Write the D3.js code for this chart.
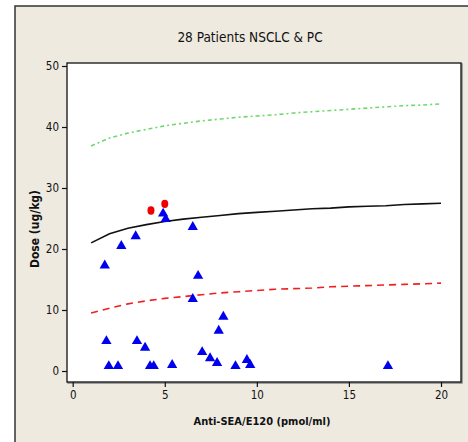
<!DOCTYPE html>
<html><head><meta charset="utf-8">
<script src="https://cdn.jsdelivr.net/npm/d3@7"></script>
<style>body{margin:0;background:#fff;} text{font-family:"Liberation Sans Narrow","DejaVu Sans Condensed",sans-serif;fill:#111;}</style>
</head><body>
<svg id="c" width="468" height="442"></svg>
<script>
const title = "28 Patients NSCLC & PC";
const xLabel = "Anti-SEA/E120 (pmol/ml)";
const yLabel = "Dose (ug/kg)";
const xTicks = [0, 5, 10, 15, 20];
const yTicks = [0, 10, 20, 30, 40, 50];

const curveX     = [1, 2, 3, 4, 5, 6, 7, 8, 9, 10, 11, 12, 13, 14, 15, 16, 17, 18, 19, 20];
const fitLine    = [21.0, 22.5, 23.4, 24.0, 24.5, 24.9, 25.2, 25.5, 25.8, 26.0, 26.2, 26.4, 26.6, 26.7, 26.9, 27.0, 27.1, 27.3, 27.4, 27.5];
const upperLine  = [36.9, 38.2, 39.0, 39.6, 40.2, 40.6, 41.0, 41.3, 41.6, 41.8, 42.0, 42.3, 42.5, 42.7, 42.9, 43.1, 43.3, 43.5, 43.6, 43.8];
const lowerLine  = [9.5, 10.3, 11.0, 11.5, 11.9, 12.2, 12.5, 12.8, 13.0, 13.2, 13.4, 13.5, 13.6, 13.8, 13.9, 14.0, 14.1, 14.2, 14.3, 14.4];

const triX = [4.91, 5.05, 6.52, 3.42, 2.64, 1.74, 6.81, 6.52, 8.18, 7.93, 1.83, 3.49, 3.93, 7.03, 7.46, 7.84, 1.96, 2.46, 4.2, 4.4, 5.40, 8.84, 9.46, 9.64, 17.12];
const triY = [25.8, 24.9, 23.6, 22.1, 20.5, 17.3, 15.6, 11.8, 8.9, 6.6, 4.9, 4.9, 3.8, 3.1, 2.1, 1.3, 0.8, 0.8, 0.8, 0.8, 1.0, 0.8, 1.8, 1.0, 0.8];
const dotX = [4.25, 5.0];
const dotY = [26.3, 27.4];

const svg = d3.select("#c");
const L = 67, R = 461, T = 63, B = 382;

// outer frame
svg.append("rect").attr("x", 15).attr("y", 6).attr("width", 470).attr("height", 460)
  .attr("fill", "#EEEAE0").attr("stroke", "#333").attr("stroke-width", 1.5);

// plot area
svg.append("rect").attr("x", L + 1).attr("y", T + 1).attr("width", R - L).attr("height", B - T)
  .attr("fill", "none").attr("stroke", "#888").attr("stroke-width", 1.5);
svg.append("rect").attr("x", L).attr("y", T).attr("width", R - L).attr("height", B - T)
  .attr("fill", "#fff").attr("stroke", "#111").attr("stroke-width", 1.3);

const x = d3.scaleLinear().domain([0, 20]).range([72.7, 441]);
const y = d3.scaleLinear().domain([0, 50]).range([371, 66]);

const xAxis = svg.append("g").attr("transform", `translate(0,${B})`)
  .call(d3.axisBottom(x).tickValues(xTicks).tickSize(5).tickPadding(4));
const yAxis = svg.append("g").attr("transform", `translate(${L},0)`)
  .call(d3.axisLeft(y).tickValues(yTicks).tickSize(5).tickPadding(3));
[xAxis, yAxis].forEach(a => {
  a.select(".domain").remove();
  a.selectAll("line").attr("stroke", "#111").attr("stroke-width", 1.2);
  a.selectAll("text").style("font-size", "11.5px").attr("fill", "#111")
    .style("font-family", '"Liberation Sans Narrow","DejaVu Sans Condensed",sans-serif');
});

const lineGen = vals => d3.line().x((d, i) => x(curveX[i])).y(d => y(d))(vals);

svg.append("path").attr("d", lineGen(upperLine)).attr("fill", "none")
  .attr("stroke", "#6FD86F").attr("stroke-width", 1.6).attr("stroke-dasharray", "4,3,2,3");
svg.append("path").attr("d", lineGen(lowerLine)).attr("fill", "none")
  .attr("stroke", "#F02020").attr("stroke-width", 1.6).attr("stroke-dasharray", "7,5");
svg.append("path").attr("d", lineGen(fitLine)).attr("fill", "none")
  .attr("stroke", "#111").attr("stroke-width", 1.6);

const tri = d3.symbol().type(d3.symbolTriangle).size(46);
svg.append("g").selectAll("path").data(triX).join("path")
  .attr("d", tri)
  .attr("transform", (d, i) => `translate(${x(d)},${y(triY[i])})`)
  .attr("fill", "#0000EE");

svg.append("g").selectAll("ellipse").data(dotX).join("ellipse")
  .attr("cx", d => x(d)).attr("cy", (d, i) => y(dotY[i]))
  .attr("rx", 3.5).attr("ry", 4.2).attr("fill", "#EE0000");

svg.append("text").attr("x", 250).attr("y", 42).attr("text-anchor", "middle")
  .style("font-size", "13.5px").text(title);
svg.append("text").attr("x", 262).attr("y", 425).attr("text-anchor", "middle")
  .style("font-size", "11px").style("font-weight", "bold").text(xLabel);
svg.append("text").attr("transform", "translate(39,229) rotate(-90)").attr("text-anchor", "middle")
  .style("font-size", "12px").style("font-weight", "bold").text(yLabel);
</script>
</body></html>
